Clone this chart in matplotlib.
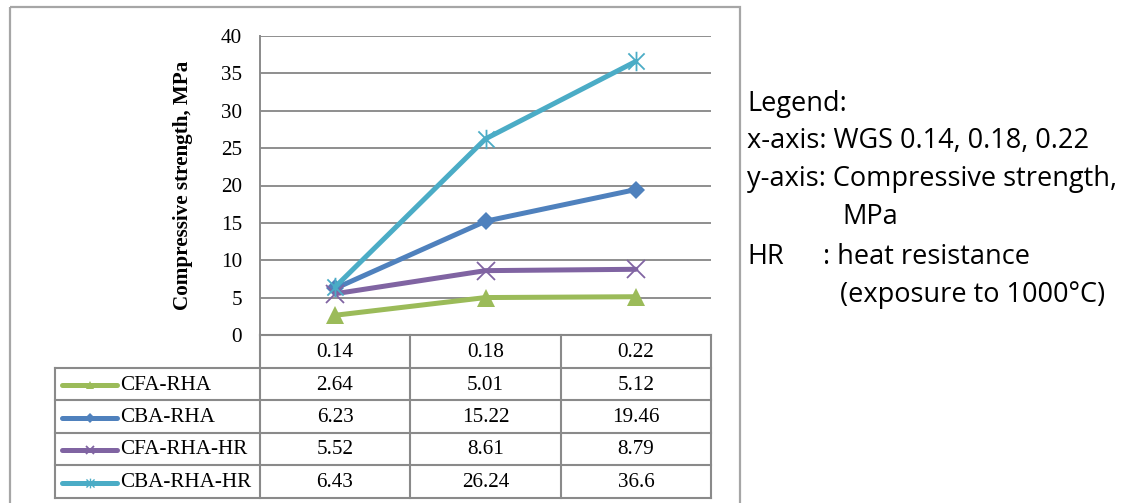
import matplotlib
matplotlib.use("Agg")
import matplotlib.pyplot as plt
from matplotlib.path import Path
from matplotlib.patches import Rectangle
import numpy as np

# ---- data ----
wgs_labels = ['0.14', '0.18', '0.22']
series_names = ['CFA-RHA', 'CBA-RHA', 'CFA-RHA-HR', 'CBA-RHA-HR']
cfa_rha = [2.64, 5.01, 5.12]
cba_rha = [6.23, 15.22, 19.46]
cfa_rha_hr = [5.52, 8.61, 8.79]
cba_rha_hr = [6.43, 26.24, 36.6]
y_ticks = [0, 5, 10, 15, 20, 25, 30, 35, 40]

series_values = [cfa_rha, cba_rha, cfa_rha_hr, cba_rha_hr]

# ---- styles ----
asterisk = Path([(-1, -1), (1, 1), (-1, 1), (1, -1), (0, -1.2), (0, 1.2)],
                [Path.MOVETO, Path.LINETO, Path.MOVETO, Path.LINETO, Path.MOVETO, Path.LINETO])
styles = [
    dict(color='#9BBB59', marker='^', ms=13, mew=0),
    dict(color='#4F81BD', marker='D', ms=9, mew=0),
    dict(color='#8064A2', marker='x', ms=13, mew=1.3),
    dict(color='#4BACC6', marker=asterisk, ms=14, mew=1.3),
]
small = [
    dict(marker='^', ms=6, mew=0),
    dict(marker='D', ms=5, mew=0),
    dict(marker='x', ms=6, mew=1.3),
    dict(marker=asterisk, ms=7, mew=1.0),
]

SERIF = 'Liberation Serif'
SANS = 'Open Sans'
GRID = '#868686'
TBL = '#8a8a8a'
FS = 15.2

W, H = 1127, 503
fig = plt.figure(figsize=(W / 100, H / 100), dpi=100)


def px(x0, y0, x1, y1):
    return [x0 / W, 1 - y1 / H, (x1 - x0) / W, (y1 - y0) / H]


# overlay for frame and table
ov = fig.add_axes([0, 0, 1, 1], zorder=0)
ov.set_xlim(0, W)
ov.set_ylim(H, 0)
ov.axis('off')

ax = fig.add_axes(px(260, 36, 711, 335), zorder=1)
ax.patch.set_alpha(0)
xs = np.arange(len(wgs_labels)) + 0.5
for vals, st in zip(series_values, styles):
    ax.plot(xs, vals, color=st['color'], lw=3.6, marker=st['marker'],
            ms=st['ms'], mew=st['mew'], mec=st['color'], mfc=st['color'],
            clip_on=False, solid_capstyle='round')
ax.set_xlim(0, len(wgs_labels))
ax.set_ylim(0, 40)
ax.set_yticks(y_ticks)
ax.set_xticks([])
ax.yaxis.grid(True, color=GRID, lw=1.3)
ax.set_axisbelow(True)
for s in ['top', 'right', 'bottom']:
    ax.spines[s].set_visible(False)
ax.spines['left'].set_color(TBL)
ax.spines['left'].set_linewidth(1.4)
ax.tick_params(axis='y', length=0, pad=13, labelsize=FS)
for lab in ax.get_yticklabels():
    lab.set_fontfamily(SERIF)

fig.text(183 / W, 1 - 185 / H, 'Compressive strength, MPa', rotation=90,
         ha='center', va='center', fontsize=FS, fontweight='bold', family=SERIF)

# outer frame
ov.add_patch(Rectangle((10, 7), 730, 520, fill=False, ec='#a6a6a6', lw=1.6))

# data table
col_x = [55, 260, 410, 561, 711]
row_y = [335, 368, 400, 433, 465, 498]
lw_t = 1.5
ov.plot([260, 711], [335, 335], color=TBL, lw=lw_t)
for y in row_y[1:]:
    ov.plot([55, 711], [y, y], color=TBL, lw=lw_t)
ov.plot([55, 55], [368, 498], color=TBL, lw=lw_t)
ov.plot([260, 260], [335, 498], color=TBL, lw=lw_t)
for x in col_x[2:]:
    ov.plot([x, x], [335, 498], color=TBL, lw=lw_t)

for j, lab in enumerate(wgs_labels):
    cx = (col_x[j + 1] + col_x[j + 2]) / 2
    ov.text(cx, (row_y[0] + row_y[1]) / 2 + 1, lab, ha='center', va='center',
            fontsize=FS, family=SERIF)
for i, (name, vals, st, sm) in enumerate(zip(series_names, series_values, styles, small)):
    cy = (row_y[i + 1] + row_y[i + 2]) / 2 + 1
    ov.plot([62, 117], [cy, cy], color=st['color'], lw=3.6, solid_capstyle='round')
    ov.plot([89.5], [cy], color=st['color'], marker=sm['marker'], ms=sm['ms'],
            mew=sm['mew'], mec=st['color'], mfc=st['color'])
    ov.text(120, cy, name, ha='left', va='center', fontsize=FS, family=SERIF)
    for j, v in enumerate(vals):
        cx = (col_x[j + 1] + col_x[j + 2]) / 2
        ov.text(cx, cy, f'{v:g}', ha='center', va='center', fontsize=FS, family=SERIF)

# side notes
fs = 19.5
ov.text(747, 104, 'Legend:', ha='left', va='center', fontsize=fs, family=SANS)
ov.text(747, 141, 'x-axis: WGS 0.14, 0.18, 0.22', ha='left', va='center', fontsize=fs, family=SANS)
ov.text(747, 179, 'y-axis: Compressive strength,', ha='left', va='center', fontsize=fs, family=SANS)
ov.text(842, 217, 'MPa', ha='left', va='center', fontsize=fs, family=SANS)
ov.text(747, 257, 'HR', ha='left', va='center', fontsize=fs, family=SANS)
ov.text(823, 257, ': heat resistance', ha='left', va='center', fontsize=fs, family=SANS)
ov.text(840, 295, '(exposure to 1000°C)', ha='left', va='center', fontsize=fs, family=SANS)

fig.savefig('out.png', dpi=100)
